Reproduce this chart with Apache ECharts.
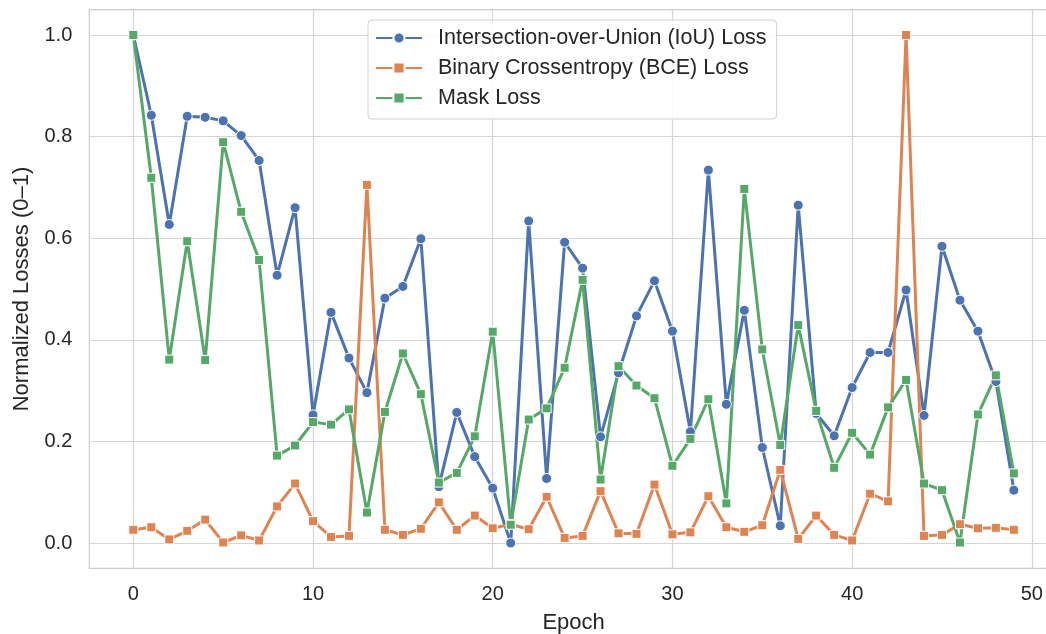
<!DOCTYPE html>
<html>
<head>
<meta charset="utf-8">
<script src="https://cdn.jsdelivr.net/npm/echarts@6/dist/echarts.min.js"></script>
<style>
  html, body { margin: 0; padding: 0; background: #ffffff; }
  #chart { width: 1046px; height: 634px; }
</style>
</head>
<body>
<div id="chart"></div>
<script>
// Normalized training losses per epoch
const epochs = Array.from({ length: 50 }, (_, i) => i);

const iouLoss = [
  1.000, 0.842, 0.627, 0.840, 0.838, 0.831, 0.802, 0.753, 0.527, 0.660,
  0.252, 0.454, 0.364, 0.296, 0.482, 0.505, 0.599, 0.111, 0.257, 0.170,
  0.108, 0.000, 0.634, 0.127, 0.592, 0.541, 0.209, 0.335, 0.447, 0.516,
  0.417, 0.219, 0.734, 0.273, 0.458, 0.188, 0.034, 0.665, 0.255, 0.211,
  0.306, 0.375, 0.375, 0.498, 0.251, 0.584, 0.478, 0.417, 0.318, 0.104
];

const bceLoss = [
  0.026, 0.031, 0.007, 0.024, 0.046, 0.001, 0.015, 0.005, 0.072, 0.117,
  0.043, 0.012, 0.014, 0.705, 0.026, 0.016, 0.028, 0.080, 0.026, 0.054,
  0.029, 0.037, 0.027, 0.091, 0.010, 0.014, 0.102, 0.019, 0.018, 0.115,
  0.017, 0.021, 0.092, 0.031, 0.022, 0.035, 0.144, 0.008, 0.054, 0.016,
  0.005, 0.097, 0.082, 1.000, 0.014, 0.016, 0.037, 0.029, 0.030, 0.026
];

const maskLoss = [
  1.000, 0.719, 0.361, 0.594, 0.360, 0.789, 0.652, 0.557, 0.172, 0.192,
  0.238, 0.233, 0.263, 0.060, 0.258, 0.373, 0.293, 0.119, 0.138, 0.210,
  0.416, 0.036, 0.243, 0.265, 0.345, 0.518, 0.125, 0.348, 0.310, 0.285,
  0.152, 0.205, 0.283, 0.078, 0.697, 0.381, 0.193, 0.429, 0.260, 0.148,
  0.217, 0.174, 0.267, 0.321, 0.117, 0.104, 0.001, 0.253, 0.330, 0.137
];

const xTicks = [0, 10, 20, 30, 40, 50];
const yTicks = [0, 0.2, 0.4, 0.6, 0.8, 1.0];

const FONT = '"Liberation Sans", Arial, sans-serif';
const TEXT = '#262626';
const GRID = '#d5d5d5';

function pairs(values) {
  return values.map((v, i) => [epochs[i], v]);
}

function lineSeries(name, values, color, symbol, size) {
  return {
    name: name,
    type: 'line',
    data: pairs(values),
    symbol: symbol,
    symbolSize: size,
    showSymbol: true,
    showAllSymbol: true,
    lineStyle: { color: color, width: 3 },
    itemStyle: { color: color, borderColor: '#ffffff', borderWidth: 1 },
    emphasis: { disabled: true },
    animation: false
  };
}

const chart = echarts.init(document.getElementById('chart'), null, { renderer: 'canvas' });

chart.setOption({
  backgroundColor: '#ffffff',
  animation: false,
  grid: {
    left: 89.3,
    top: 9.6,
    width: 968.6,
    height: 558.8,
    containLabel: false,
    outerBoundsMode: 'none',
    show: true,
    borderColor: '#cccccc',
    borderWidth: 1.2,
    backgroundColor: 'transparent'
  },
  xAxis: {
    type: 'value',
    min: -2.45,
    max: 51.45,
    name: 'Epoch',
    nameLocation: 'middle',
    nameGap: 44,
    nameTextStyle: { fontFamily: FONT, fontSize: 22, color: TEXT },
    axisLine: { show: false },
    axisTick: { show: false, customValues: xTicks },
    axisLabel: {
      customValues: xTicks,
      fontFamily: FONT, fontSize: 20, color: TEXT, margin: 16
    },
    splitLine: { show: true, lineStyle: { color: GRID, width: 1.2 } }
  },
  yAxis: {
    type: 'value',
    min: -0.05,
    max: 1.05,
    name: 'Normalized Losses (0\u20131)',
    nameLocation: 'middle',
    nameGap: 56,
    nameRotate: 90,
    nameTextStyle: { fontFamily: FONT, fontSize: 22, color: TEXT },
    axisLine: { show: false },
    axisTick: { show: false, customValues: yTicks },
    axisLabel: {
      customValues: yTicks,
      formatter: v => v.toFixed(1),
      fontFamily: FONT, fontSize: 20, color: TEXT, margin: 17
    },
    splitLine: { show: true, lineStyle: { color: GRID, width: 1.2 } }
  },
  legend: {
    orient: 'vertical',
    left: 368,
    top: 20,
    padding: [7, 10, 10, 7],
    itemWidth: 46,
    itemHeight: 14,
    itemGap: 8,
    backgroundColor: 'rgba(255,255,255,0.85)',
    borderColor: '#d0d0d0',
    borderWidth: 1,
    borderRadius: 4,
    textStyle: {
      fontFamily: FONT, fontSize: 21.5, lineHeight: 22, color: TEXT,
      padding: [0, 0, 0, 11]
    },
    data: [
      'Intersection-over-Union (IoU) Loss',
      'Binary Crossentropy (BCE) Loss',
      'Mask Loss'
    ]
  },
  series: [
    lineSeries('Intersection-over-Union (IoU) Loss', iouLoss, '#4C72B0', 'circle', 10),
    lineSeries('Binary Crossentropy (BCE) Loss', bceLoss, '#DD8452', 'rect', 9),
    lineSeries('Mask Loss', maskLoss, '#55A868', 'rect', 9)
  ]
});
</script>
</body>
</html>
